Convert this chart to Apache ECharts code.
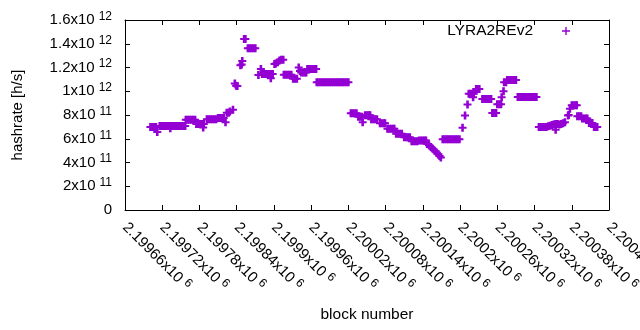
<!DOCTYPE html>
<html>
<head>
<meta charset="utf-8">
<script src="https://cdn.jsdelivr.net/npm/echarts@6/dist/echarts.min.js"></script>
<style>html,body{margin:0;padding:0;background:#fff}#chart{width:640px;height:330px}</style>
</head>
<body>
<div id="chart"></div>
<script>
const seriesName = 'LYRA2REv2';
const xTitle = 'block number';
const yTitle = 'hashrate [h/s]';
const xMin = 2199660, xMax = 2200440, xStep = 60;
const yMin = 0, yMax = 1.6e12, yStep = 2e11;

const blockNumbers = [
  2199701,2199704,2199707,2199710,
  2199712,
  2199716,2199719,2199722,2199725,2199728,2199731,2199734,2199737,2199740,2199743,2199746,2199749,2199752,2199755,2199757,
  2199733,
  2199758,2199761,2199764,2199767,2199770,2199773,
  2199775,2199778,2199781,2199784,2199787,
  2199786,
  2199792,2199795,2199798,2199801,2199804,2199807,
  2199810,2199813,2199816,2199819,2199822,
  2199824,2199827,2199829,
  2199834,
  2199837,2199839,2199841,
  2199846,2199848,2199849,
  2199852,2199854,
  2199858,2199861,2199864,2199867,2199870,
  2199875,2199879,
  2199881,2199884,2199887,2199890,2199893,2199896,2199898,2199895,
  2199901,2199903,2199906,2199909,2199912,2199915,
  2199916,2199919,2199922,2199925,2199928,
  2199931,2199934,2199937,
  2199940,2199942,
  2199944,2199947,2199950,2199952,
  2199954,2199957,2199960,2199963,2199966,2199968,
  2199969,2199972,2199975,2199978,2199981,2199984,2199987,2199990,2199993,
  2199996,2199999,2200002,2200005,2200008,2200011,2200014,2200017,2200020,
  2200024,2200027,2200030,2200033,
  2200036,2200039,2200042,2200043,
  2200047,2200050,2200053,2200055,
  2200057,2200060,2200063,2200066,
  2200071,2200074,2200077,2200079,
  2200083,2200086,2200089,2200092,2200094,
  2200097,2200100,2200103,2200106,
  2200110,2200113,2200116,2200119,
  2200122,2200125,2200128,2200131,
  2200134,2200137,2200140,2200143,2200145,
  2200147,2200150,2200153,2200156,2200159,2200162,2200165,2200167,2200169,
  2200172,2200175,2200178,2200181,2200184,2200187,2200190,2200193,2200196,2200199,
  2200204,2200208,2200212,
  2200214,2200217,2200220,2200222,2200221,
  2200226,2200229,2200231,
  2200236,2200239,2200242,2200245,2200248,2200250,
  2200252,2200255,2200258,
  2200260,2200263,2200266,
  2200267,2200270,
  2200271,2200274,
  2200276,2200279,2200282,2200285,2200288,2200290,
  2200293,2200296,2200299,2200302,2200305,2200308,2200311,2200314,2200317,2200320,2200323,
  2200327,2200330,2200333,2200336,2200338,
  2200339,2200342,2200345,2200348,2200351,2200354,2200357,2200360,2200363,2200366,2200354,
  2200369,2200374,2200375,2200377,
  2200380,2200383,2200386,2200388,
  2200389,2200392,2200395,
  2200397,2200400,2200403,2200405,
  2200408,2200411,2200413,
  2200416,2200419,2200421
];

const hashrates = [
  6.98e11,6.98e11,6.98e11,6.98e11,
  6.56e11,
  7.08e11,7.08e11,7.08e11,7.08e11,7.08e11,7.08e11,7.08e11,7.08e11,7.08e11,7.08e11,7.08e11,7.08e11,7.08e11,7.08e11,7.08e11,
  6.88e11,
  7.6e11,7.6e11,7.6e11,7.6e11,7.6e11,7.6e11,
  7.25e11,7.25e11,7.25e11,7.25e11,7.25e11,
  6.95e11,
  7.65e11,7.65e11,7.65e11,7.65e11,7.65e11,7.65e11,
  7.75e11,7.75e11,7.75e11,7.75e11,7.4e11,
  8.2e11,8.2e11,8.3e11,
  8.45e11,
  10.66e11,10.47e11,10.45e11,
  12.2e11,12.25e11,12.55e11,
  14.4e11,14.4e11,
  13.62e11,13.62e11,13.62e11,13.62e11,13.62e11,
  11.36e11,11.87e11,
  11.45e11,11.45e11,11.45e11,11.45e11,11.45e11,11.45e11,11.45e11,11.1e11,
  12.3e11,12.34e11,12.45e11,12.6e11,12.65e11,12.65e11,
  11.39e11,11.39e11,11.39e11,11.39e11,11.39e11,
  11.05e11,11.05e11,11.05e11,
  12.0e11,11.7e11,
  11.58e11,11.58e11,11.58e11,11.58e11,
  11.87e11,11.87e11,11.87e11,11.87e11,11.87e11,11.87e11,
  10.75e11,10.75e11,10.75e11,10.75e11,10.75e11,10.75e11,10.75e11,10.75e11,10.75e11,
  10.75e11,10.75e11,10.75e11,10.75e11,10.75e11,10.75e11,10.75e11,10.75e11,10.75e11,
  8.15e11,8.15e11,8.15e11,8.15e11,
  7.85e11,7.85e11,7.85e11,7.4e11,
  7.97e11,7.97e11,7.97e11,7.97e11,
  7.65e11,7.65e11,7.65e11,7.65e11,
  7.3e11,7.3e11,7.3e11,7.3e11,
  6.84e11,6.84e11,6.84e11,6.84e11,6.84e11,
  6.42e11,6.42e11,6.42e11,6.42e11,
  6.13e11,6.13e11,6.13e11,6.13e11,
  5.8e11,5.8e11,5.8e11,5.8e11,
  5.86e11,5.86e11,5.86e11,5.86e11,5.86e11,
  5.55e11,5.45e11,5.3e11,5.15e11,5.0e11,4.85e11,4.7e11,4.55e11,4.42e11,
  5.96e11,5.96e11,5.96e11,5.96e11,5.96e11,5.96e11,5.96e11,5.96e11,5.96e11,5.96e11,
  6.93e11,7.96e11,8.88e11,
  9.8e11,9.8e11,9.8e11,9.8e11,9.5e11,
  10.19e11,10.19e11,10.19e11,
  9.35e11,9.35e11,9.35e11,9.35e11,9.35e11,9.35e11,
  8.17e11,8.17e11,8.17e11,
  8.9e11,8.9e11,8.9e11,
  9.49e11,10.0e11,
  10.75e11,10.75e11,
  10.95e11,10.95e11,10.95e11,10.95e11,10.95e11,10.95e11,
  9.52e11,9.52e11,9.52e11,9.52e11,9.52e11,9.52e11,9.52e11,9.52e11,9.52e11,9.52e11,9.52e11,
  7.0e11,7.0e11,7.0e11,7.0e11,7.0e11,
  7.0e11,7.05e11,7.1e11,7.15e11,7.2e11,7.25e11,7.25e11,7.2e11,7.25e11,7.3e11,6.76e11,
  7.4e11,7.96e11,8.0e11,8.52e11,
  8.83e11,8.83e11,8.83e11,8.83e11,
  7.9e11,7.9e11,7.9e11,
  7.7e11,7.7e11,7.7e11,7.7e11,
  7.33e11,7.33e11,7.33e11,
  6.98e11,6.98e11,6.98e11
];

const FONT = '"Liberation Sans", Arial, sans-serif';
const plusPath = 'path://M2.7,0h2.6v3h2.7v2h-2.7v3h-2.6v-3h-2.7v-2h2.7z';
const legendPlus = 'path://M3.3,0h1.4v3.3h3.3v1.4h-3.3v3.3h-1.4v-3.3h-3.3v-1.4h3.3z';

function sci(v, digits) {
  if (Math.abs(v) < 1e-6) return '0';
  const e = Math.floor(Math.log10(Math.abs(v)) + 1e-9);
  const m = +(v / Math.pow(10, e)).toFixed(digits);
  return m + 'x10{sup|' + e + '}';
}
const rich = { sup: { fontSize: 12, fontFamily: FONT, color: '#000', padding: [0, 0, 7, 4] } };

const data = blockNumbers.map((b, i) => [b, hashrates[i]]);

const chart = echarts.init(document.getElementById('chart'), null, { renderer: 'canvas' });
const lineStyle = { color: '#000', width: 1 };
chart.setOption({
  animation: false,
  textStyle: { fontFamily: FONT, color: '#000' },
  grid: { left: 125, right: 31, top: 20, bottom: 120, containLabel: false, outerBoundsMode: 'none' },
  legend: {
    data: [{ name: seriesName, icon: legendPlus }],
    right: 70, top: 23, padding: 0, align: 'right',
    itemWidth: 8, itemHeight: 8,
    textStyle: { fontSize: 15.5, color: '#000', fontFamily: FONT, padding: [0, 24, 0, 0] }
  },
  xAxis: [{
    type: 'value', min: xMin, max: xMax, interval: xStep, position: 'bottom',
    axisLine: { show: true, onZero: false, lineStyle },
    axisTick: { show: true, inside: true, length: 5, lineStyle },
    splitLine: { show: false },
    axisLabel: {
      rotate: -45, margin: 15, fontSize: 15, color: '#000', fontFamily: FONT,
      showMinLabel: true, showMaxLabel: true, hideOverlap: false,
      formatter: v => sci(v, 5), rich
    },
    name: xTitle, nameLocation: 'middle', nameGap: 97,
    nameTextStyle: { fontSize: 15.5, color: '#000', fontFamily: FONT }
  }, {
    type: 'value', min: xMin, max: xMax, interval: xStep, position: 'top',
    axisLine: { show: true, onZero: false, lineStyle },
    axisTick: { show: true, inside: true, length: 5, lineStyle },
    splitLine: { show: false }, axisLabel: { show: false }
  }],
  yAxis: [{
    type: 'value', min: yMin, max: yMax, interval: yStep, position: 'left',
    axisLine: { show: true, onZero: false, lineStyle },
    axisTick: { show: true, inside: true, length: 5, lineStyle },
    splitLine: { show: false },
    axisLabel: { margin: 13, fontSize: 15, color: '#000', fontFamily: FONT, formatter: v => sci(v, 2), rich },
    name: yTitle, nameLocation: 'middle', nameGap: 100,
    nameTextStyle: { fontSize: 15, color: '#000', fontFamily: FONT }
  }, {
    type: 'value', min: yMin, max: yMax, interval: yStep, position: 'right',
    axisLine: { show: true, onZero: false, lineStyle },
    axisTick: { show: true, inside: true, length: 5, lineStyle },
    splitLine: { show: false }, axisLabel: { show: false }
  }],
  series: [{
    name: seriesName, type: 'scatter', xAxisIndex: 0, yAxisIndex: 0,
    symbol: plusPath, symbolSize: 8,
    itemStyle: { color: '#9400d3', opacity: 1 },
    emphasis: { disabled: true },
    data: data
  }]
});
</script>
</body>
</html>
